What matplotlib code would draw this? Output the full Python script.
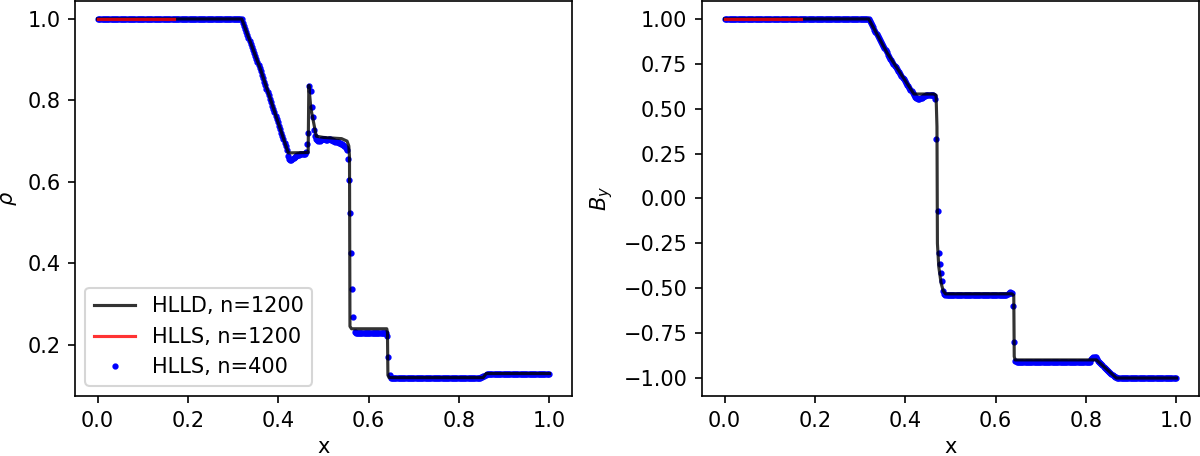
import numpy

import matplotlib
matplotlib.use("Agg")
import matplotlib.pyplot as plt


# HLLD, n=1200 : polyline
rho_hlld_x = [0.0, 0.319, 0.36, 0.422, 0.466, 0.4675, 0.472, 0.484, 0.50, 0.54, 0.552, 0.556,
              0.5575, 0.5585, 0.562, 0.640, 0.6415, 0.6425, 0.645, 0.853, 0.860, 1.0]
rho_hlld_y = [1.0, 1.0, 0.878, 0.671, 0.672, 0.837, 0.78, 0.712, 0.709, 0.706, 0.700, 0.688,
              0.66, 0.245, 0.239, 0.239, 0.23, 0.125, 0.119, 0.119, 0.129, 0.129]

by_hlld_x = [0.0, 0.319, 0.36, 0.419, 0.463, 0.468, 0.470, 0.471, 0.474, 0.479, 0.484, 0.489,
             0.636, 0.640, 0.641, 0.643, 0.823, 0.867, 1.0]
by_hlld_y = [1.0, 1.0, 0.81, 0.582, 0.582, 0.575, 0.40, -0.25, -0.38, -0.47, -0.515, -0.531,
             -0.531, -0.54, -0.88, -0.899, -0.899, -1.0, -1.0]

# HLLS, n=1200 : only visible where HLLD does not cover it
hlls_fine_x = [0.0, 0.17]
rho_hlls_fine_y = [1.0, 1.0]
by_hlls_fine_y = [1.0, 1.0]

# HLLS, n=400 : cell values
rho_dots = ([1.0] * 128
            + [0.991, 0.983, 0.975, 0.968, 0.960, 0.953, 0.946, 0.938, 0.931, 0.923,
               0.916, 0.908, 0.901, 0.894, 0.886, 0.879, 0.871, 0.862, 0.854, 0.846,
               0.837, 0.829, 0.821, 0.812, 0.804, 0.796, 0.787, 0.779, 0.771, 0.762,
               0.754, 0.746, 0.737, 0.729, 0.721, 0.712, 0.704, 0.695, 0.687, 0.678]
            + [0.664, 0.657, 0.654, 0.653, 0.655, 0.658, 0.661, 0.664, 0.666, 0.667,
               0.667, 0.668, 0.668, 0.668, 0.669, 0.669, 0.672, 0.694]
            + [0.720, 0.835, 0.823, 0.784, 0.760, 0.728, 0.712, 0.705]
            + [0.702, 0.700, 0.700, 0.702, 0.704, 0.705, 0.705, 0.704, 0.703, 0.703,
               0.704, 0.704, 0.703, 0.702, 0.701, 0.700, 0.699, 0.698, 0.697, 0.696,
               0.695, 0.694, 0.692, 0.690, 0.688, 0.684]
            + [0.679, 0.656, 0.605, 0.524, 0.426, 0.337, 0.269]
            + [0.232, 0.229] + [0.228] * 27
            + [0.222, 0.169, 0.125]
            + [0.118] * 79
            + [0.119, 0.120, 0.121, 0.122, 0.123, 0.125, 0.127, 0.128]
            + [0.128] * 54)

by_dots = ([1.0] * 128
           + [0.988, 0.976, 0.964, 0.953, 0.941, 0.930, 0.918, 0.906, 0.895, 0.883,
              0.872, 0.860, 0.848, 0.837, 0.825, 0.814, 0.798, 0.789, 0.779, 0.769,
              0.760, 0.750, 0.740, 0.731, 0.721, 0.711, 0.702, 0.692, 0.682, 0.673,
              0.663, 0.653, 0.644, 0.634, 0.624, 0.615, 0.605, 0.596, 0.586, 0.577]
           + [0.568, 0.562, 0.558, 0.556, 0.556, 0.558, 0.562, 0.566, 0.570, 0.573,
              0.575, 0.576, 0.577, 0.578, 0.578, 0.578, 0.576, 0.570, 0.556]
           + [0.333, -0.068, -0.303, -0.367, -0.413, -0.462, -0.513, -0.532]
           + [-0.536] * 55 + [-0.530, -0.526, -0.522, -0.524]
           + [-0.528, -0.597, -0.798, -0.905]
           + [-0.911] * 66
           + [-0.895, -0.888, -0.883, -0.882, -0.885, -0.893]
           + [-0.905, -0.912, -0.918, -0.924, -0.930, -0.936, -0.942, -0.948, -0.954,
              -0.960, -0.966, -0.972, -0.977, -0.982, -0.988, -0.993, -0.997]
           + [-1.0] * 53)

n_coarse = len(rho_dots)
x_coarse = (numpy.arange(n_coarse) + 0.5) / n_coarse


fig = plt.figure(figsize=(8, 3.04), dpi=150)

ax_rho = fig.add_axes([0.0625, 0.1316, 0.4142, 0.8662])
ax_by = fig.add_axes([0.585, 0.1316, 0.4142, 0.8662])

panels = [
    (ax_rho, rho_hlld_x, rho_hlld_y, rho_hlls_fine_y, rho_dots, r"$\rho$"),
    (ax_by, by_hlld_x, by_hlld_y, by_hlls_fine_y, by_dots, r"$B_y$"),
]

for ax, hx, hy, fy, dots, ylabel in panels:
    d, = ax.plot(x_coarse, dots, ".", color="blue", ms=4, label="HLLS, n=400")
    h, = ax.plot(hx, hy, color="black", alpha=0.8, lw=1.5, label="HLLD, n=1200")
    f, = ax.plot(hlls_fine_x, fy, color="red", alpha=0.8, lw=1.5, label="HLLS, n=1200")
    ax.set_xlabel("x", labelpad=3)
    ax.set_ylabel(ylabel)
    ax.set_xticks([0.0, 0.2, 0.4, 0.6, 0.8, 1.0])
    if ax is ax_rho:
        ax.legend(handles=[h, f, d], loc="lower left")

plt.savefig("out.png", dpi=150)
